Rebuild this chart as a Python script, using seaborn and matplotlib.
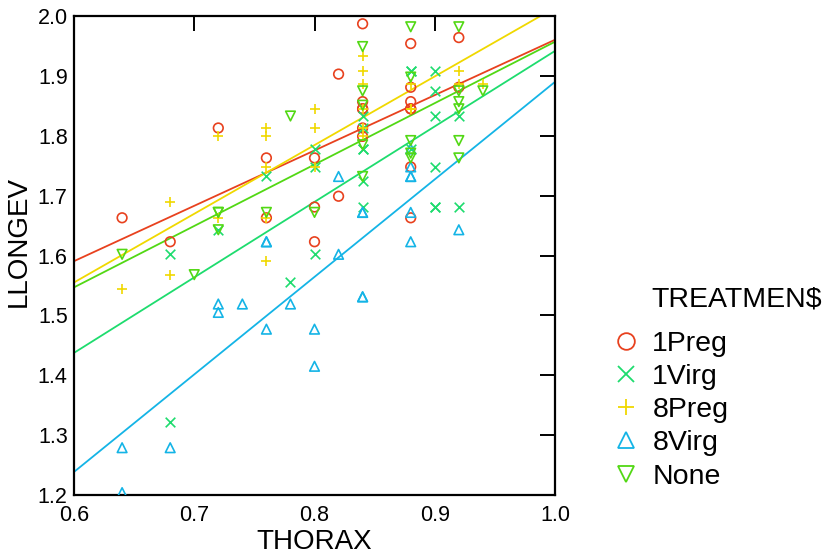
import pandas as pd
import seaborn as sns
import matplotlib
matplotlib.use("Agg")
import matplotlib.pyplot as plt
from matplotlib.lines import Line2D

# valores (THORAX e log10 da longevidade)
grupos = ['1Preg', '1Virg', '8Preg', '8Virg', 'None']

thorax_1preg = [0.64, 0.68, 0.72, 0.76, 0.76, 0.80, 0.80, 0.80, 0.82, 0.82,
                0.84, 0.84, 0.84, 0.84, 0.84, 0.84,
                0.88, 0.88, 0.88, 0.88, 0.88, 0.88, 0.88, 0.92, 0.92]
llongev_1preg = [1.663, 1.623, 1.813, 1.663, 1.763, 1.623, 1.681, 1.763, 1.699, 1.903,
                 1.799, 1.813, 1.845, 1.845, 1.857, 1.987,
                 1.663, 1.748, 1.845, 1.845, 1.857, 1.881, 1.954, 1.881, 1.964]

thorax_1virg = [0.68, 0.68, 0.72, 0.76, 0.78, 0.80, 0.80, 0.80,
                0.84, 0.84, 0.84, 0.84, 0.84, 0.84, 0.88, 0.88, 0.88,
                0.90, 0.90, 0.90, 0.90, 0.90, 0.90, 0.92, 0.92]
llongev_1virg = [1.322, 1.602, 1.643, 1.732, 1.556, 1.602, 1.748, 1.778,
                 1.681, 1.724, 1.778, 1.778, 1.813, 1.833, 1.778, 1.908, 1.908,
                 1.681, 1.681, 1.748, 1.833, 1.875, 1.908, 1.681, 1.833]

thorax_8preg = [0.64, 0.68, 0.68, 0.72, 0.72, 0.76, 0.76, 0.76, 0.76, 0.76,
                0.80, 0.80, 0.80, 0.84, 0.84, 0.84, 0.84, 0.84, 0.84,
                0.88, 0.88, 0.88, 0.92, 0.92, 0.94]
llongev_8preg = [1.544, 1.568, 1.690, 1.663, 1.799, 1.591, 1.663, 1.748, 1.799, 1.813,
                 1.748, 1.813, 1.845, 1.799, 1.813, 1.845, 1.886, 1.908, 1.934,
                 1.845, 1.845, 1.886, 1.886, 1.908, 1.886]

thorax_8virg = [0.64, 0.64, 0.68, 0.72, 0.72, 0.74, 0.76, 0.76, 0.76, 0.78,
                0.80, 0.80, 0.82, 0.82, 0.84, 0.84, 0.84, 0.84,
                0.88, 0.88, 0.88, 0.88, 0.88, 0.88, 0.92]
llongev_8virg = [1.204, 1.279, 1.279, 1.505, 1.519, 1.519, 1.477, 1.623, 1.623, 1.519,
                 1.415, 1.477, 1.602, 1.732, 1.531, 1.531, 1.672, 1.672,
                 1.623, 1.672, 1.732, 1.732, 1.748, 1.778, 1.643]

thorax_none = [0.64, 0.70, 0.72, 0.72, 0.72, 0.76, 0.78, 0.80,
               0.84, 0.84, 0.84, 0.84, 0.84, 0.88, 0.88, 0.88, 0.88, 0.88,
               0.92, 0.92, 0.92, 0.92, 0.92, 0.92, 0.94]
llongev_none = [1.602, 1.568, 1.643, 1.672, 1.672, 1.672, 1.833, 1.672,
                1.732, 1.785, 1.851, 1.875, 1.949, 1.763, 1.771, 1.792, 1.898, 1.982,
                1.763, 1.792, 1.845, 1.857, 1.875, 1.982, 1.875]

cores = {'1Preg': '#e8411e', '1Virg': '#1edc6e', '8Preg': '#f0d800',
         '8Virg': '#14b4e6', 'None': '#52d814'}
marcadores = {'1Preg': 'o', '1Virg': 'x', '8Preg': '+', '8Virg': '^', 'None': 'v'}

partes = []
for g, xs, ys in zip(grupos,
                     [thorax_1preg, thorax_1virg, thorax_8preg, thorax_8virg, thorax_none],
                     [llongev_1preg, llongev_1virg, llongev_8preg, llongev_8virg, llongev_none]):
    partes.append(pd.DataFrame({'THORAX': xs, 'LLONGEV': ys, 'TREATMEN$': g}))
df = pd.concat(partes, ignore_index=True)

sns.set_style("white")
plt.rcParams['font.family'] = ['Liberation Sans', 'DejaVu Sans']
plt.rcParams['text.color'] = 'black'
plt.rcParams['axes.labelcolor'] = 'black'
plt.rcParams['xtick.color'] = 'black'
plt.rcParams['ytick.color'] = 'black'

fig = plt.figure(figsize=(8.23, 5.56), dpi=100)
ax = fig.add_axes([0.0899, 0.1097, 0.5845, 0.8615])
ax.set_xlim(0.6, 1.0)
ax.set_ylim(1.2, 2.0)

for g in grupos:
    sub = df[df['TREATMEN$'] == g]
    m = marcadores[g]
    sk = dict(s=48, linewidths=1.2, alpha=1, zorder=3)
    if m in ('o', '^', 'v'):
        sk['facecolors'] = 'none'
    sns.regplot(data=sub, x='THORAX', y='LLONGEV', ax=ax, marker=m,
                color=cores[g], ci=None, truncate=False,
                scatter_kws=sk, line_kws=dict(lw=1.3, zorder=2))

ax.set_xlim(0.6, 1.0)
ax.set_ylim(1.2, 2.0)
ax.set_xticks([0.6, 0.7, 0.8, 0.9, 1.0])
ax.set_yticks([1.2, 1.3, 1.4, 1.5, 1.6, 1.7, 1.8, 1.9, 2.0])
ax.tick_params(direction='in', length=10.5, width=1.4, top=True, right=True,
               labelsize=15.5, color='black', labelcolor='black')
ax.tick_params(axis='x', pad=7)
ax.tick_params(axis='y', pad=4.5)
for sp in ax.spines.values():
    sp.set_linewidth(1.6)
    sp.set_color('black')

ax.set_xlabel('THORAX', fontsize=20, color='black')
ax.set_ylabel('LLONGEV', fontsize=20, color='black')
ax.xaxis.set_label_coords(0.5, -0.072)
ax.yaxis.set_label_coords(-0.088, 0.53)

handles = []
for g in grupos:
    m = marcadores[g]
    handles.append(Line2D([], [], linestyle='none', marker=m, markersize=12,
                          markeredgewidth=1.3, color=cores[g],
                          markerfacecolor='none' if m in ('o', '^', 'v') else cores[g]))
leg = fig.legend(handles, grupos, loc='upper left', bbox_to_anchor=(0.7435, 0.4045),
                 frameon=False, fontsize=20.5, handlelength=1.0, handletextpad=0.42,
                 labelspacing=0.25, borderpad=0, borderaxespad=0)
for t in leg.get_texts():
    t.set_color('black')
fig.text(0.792, 0.462, 'TREATMEN$', fontsize=20.5, va='center', ha='left', color='black')

fig.savefig('out.png', dpi=100)
